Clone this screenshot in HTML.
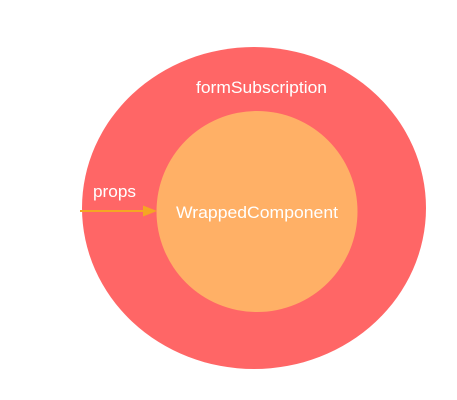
<!DOCTYPE html>
<html><head><meta charset="utf-8"><style>
html,body{margin:0;padding:0;background:#fff;width:457px;height:400px;overflow:hidden}
</style></head><body>
<svg width="457" height="400" xmlns="http://www.w3.org/2000/svg" style="display:block">
<ellipse cx="254" cy="208" rx="172" ry="161" fill="#FF6666"/>
<circle cx="257" cy="211.5" r="100.5" fill="#FFB066"/>
<text x="196" y="93" fill="#fff" font-family="Liberation Sans, sans-serif" font-size="16.5" textLength="131" lengthAdjust="spacingAndGlyphs">formSubscription</text>
<text x="176" y="218" fill="#fff" font-family="Liberation Sans, sans-serif" font-size="16.5" textLength="162" lengthAdjust="spacingAndGlyphs">WrappedComponent</text>
<text x="93" y="197" fill="#fff" font-family="Liberation Sans, sans-serif" font-size="16.5" textLength="43" lengthAdjust="spacingAndGlyphs">props</text>
<line x1="80" y1="211" x2="146" y2="211" stroke="#F5A623" stroke-width="2"/>
<polygon points="157,211 143,205.5 143,216.5" fill="#F5A623"/>
</svg>
</body></html>
